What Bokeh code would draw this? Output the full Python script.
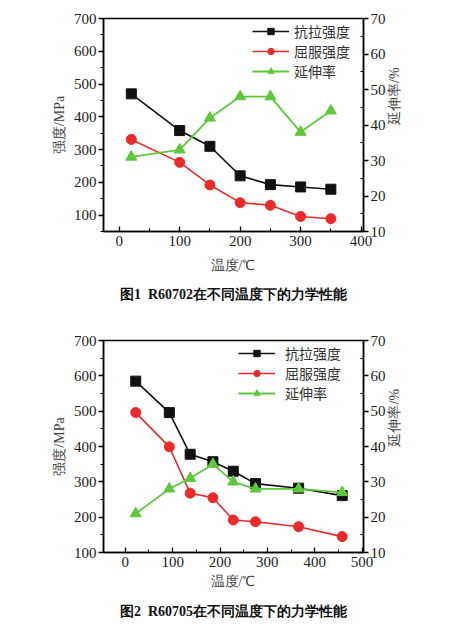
import math
from bokeh.plotting import figure
from bokeh.models import Range1d, LinearAxis, Legend, LegendItem, FixedTicker, Title
from bokeh.layouts import column
from bokeh.embed import file_html
from bokeh.resources import INLINE

# ---------------- data ----------------
temp1 = [20, 100, 150, 200, 250, 300, 350]
tensile1 = [470, 358, 310, 220, 193, 186, 179]
yield1 = [331, 261, 192, 138, 130, 96, 89]
elong1 = [31, 33, 42, 48, 48, 38, 44]

temp2 = [22, 93, 137, 185, 228, 275, 366, 458]
tensile2 = [585, 496, 378, 357, 330, 295, 282, 261]
yield2 = [496, 399, 268, 255, 192, 187, 173, 145]
elong2 = [21, 28, 31, 35, 30, 28, 28, 27]

names = ["抗拉强度", "屈服强度", "延伸率"]
caption1 = "图1\u2002R60702在不同温度下的力学性能"
caption2 = "图2\u2002R60705在不同温度下的力学性能"
xlabel = "温度/℃"
ylabel_left = "强度/MPa"
ylabel_right = "延伸率/%"

xticks1 = [0, 100, 200, 300, 400]
xticks2 = [0, 100, 200, 300, 400, 500]
yticks = [100, 200, 300, 400, 500, 600, 700]
rticks = [10, 20, 30, 40, 50, 60, 70]

FONT = "Liberation Serif"
CJK = "Noto Sans CJK SC"
BLACK = "#111111"
RED = "#ec2a2a"
GREEN = "#5ec83c"


def style_axis(ax, side, label_standoff):
    ax.axis_line_width = 1.5
    ax.axis_line_color = "black"
    ax.major_tick_line_width = 1.3
    ax.minor_tick_line_width = 1.1
    ax.major_label_text_font = FONT
    ax.major_label_text_font_size = "15px"
    ax.major_label_text_color = "#222222"
    ax.axis_label_text_font = FONT
    ax.axis_label_text_font_size = "14px"
    ax.axis_label_text_font_style = "normal"
    ax.axis_label_text_color = "#444444"
    ax.axis_label_standoff = label_standoff
    if side == "below":
        ax.major_tick_in = 5
        ax.major_tick_out = 0
        ax.minor_tick_in = 3
        ax.minor_tick_out = 0
        ax.major_label_standoff = 4
    elif side == "left":
        ax.major_tick_in = 0
        ax.major_tick_out = 5
        ax.minor_tick_in = 0
        ax.minor_tick_out = 3
        ax.major_label_standoff = 2
    else:
        ax.major_tick_in = 0
        ax.major_tick_out = 5
        ax.minor_tick_in = 3
        ax.minor_tick_out = 0
        ax.major_label_standoff = 2


def make_chart(temp, ten, yl, el, xr, yr, xticks, caption, height, bl, br, bt, bb,
               leg_loc, leg_standoff, xlab_standoff, cap_standoff):
    p = figure(width=445, height=height, output_backend="svg", toolbar_location=None,
               x_range=Range1d(*xr), y_range=Range1d(*yr),
               min_border_left=bl, min_border_right=br, min_border_top=bt, min_border_bottom=bb)
    p.extra_y_ranges = {"el": Range1d(10, 70)}
    p.grid.visible = False
    p.outline_line_color = "black"
    p.outline_line_width = 1.5
    p.background_fill_color = "white"
    p.border_fill_color = "white"

    minor_x = [t + 50 for t in xticks[:-1]]
    p.xaxis.ticker = FixedTicker(ticks=xticks, minor_ticks=minor_x)
    p.xaxis.axis_label = xlabel
    p.yaxis.ticker = FixedTicker(ticks=yticks, minor_ticks=[50 + 100 * i for i in range(7)])
    p.yaxis.axis_label = ylabel_left
    style_axis(p.xaxis[0], "below", xlab_standoff)
    style_axis(p.yaxis[0], "left", 4)

    rax = LinearAxis(y_range_name="el", axis_label=ylabel_right,
                     ticker=FixedTicker(ticks=rticks, minor_ticks=[15, 25, 35, 45, 55, 65]))
    style_axis(rax, "right", 6)
    try:
        rax.axis_label_orientation = math.pi / 2
    except Exception:
        pass
    p.add_layout(rax, "right")

    l1 = p.line(temp, ten, line_color=BLACK, line_width=1.6)
    m1 = p.scatter(temp, ten, marker="square", size=10, fill_color=BLACK, line_color=BLACK)
    l2 = p.line(temp, yl, line_color=RED, line_width=1.6)
    m2 = p.scatter(temp, yl, marker="circle", size=10, fill_color=RED, line_color=RED)
    l3 = p.line(temp, el, line_color=GREEN, line_width=1.8, y_range_name="el")
    m3 = p.scatter(temp, el, marker="triangle", size=11, fill_color=GREEN, line_color=GREEN,
                   y_range_name="el")

    leg = Legend(items=[LegendItem(label=names[0], renderers=[l1, m1]),
                        LegendItem(label=names[1], renderers=[l2, m2]),
                        LegendItem(label=names[2], renderers=[l3, m3])],
                 location=leg_loc, border_line_color=None, background_fill_alpha=0,
                 label_text_font=CJK, label_text_font_size="14px", label_text_color="#333333",
                 glyph_width=37, glyph_height=16, label_height=16, spacing=-2,
                 padding=2, margin=0, label_standoff=leg_standoff)
    p.add_layout(leg)

    t = Title(text=caption, align="center", text_font=FONT, text_font_size="14px",
              text_font_style="bold", text_color="#111111", standoff=cap_standoff)
    p.add_layout(t, "below")
    return p


p1 = make_chart(temp1, tensile1, yield1, elong1, (-26, 404), (50, 700), xticks1, caption1,
                310, 103, 80, 18, 78, (149, 150), 5, 9, 18)
p2 = make_chart(temp2, tensile2, yield2, elong2, (-46, 503), (100, 700), xticks2, caption2,
                319, 103, 82, 30, 76, (135, 149), 10, 4, 21)

layout = column(p1, p2, spacing=0)
open("out.html", "w").write(file_html(layout, INLINE))
